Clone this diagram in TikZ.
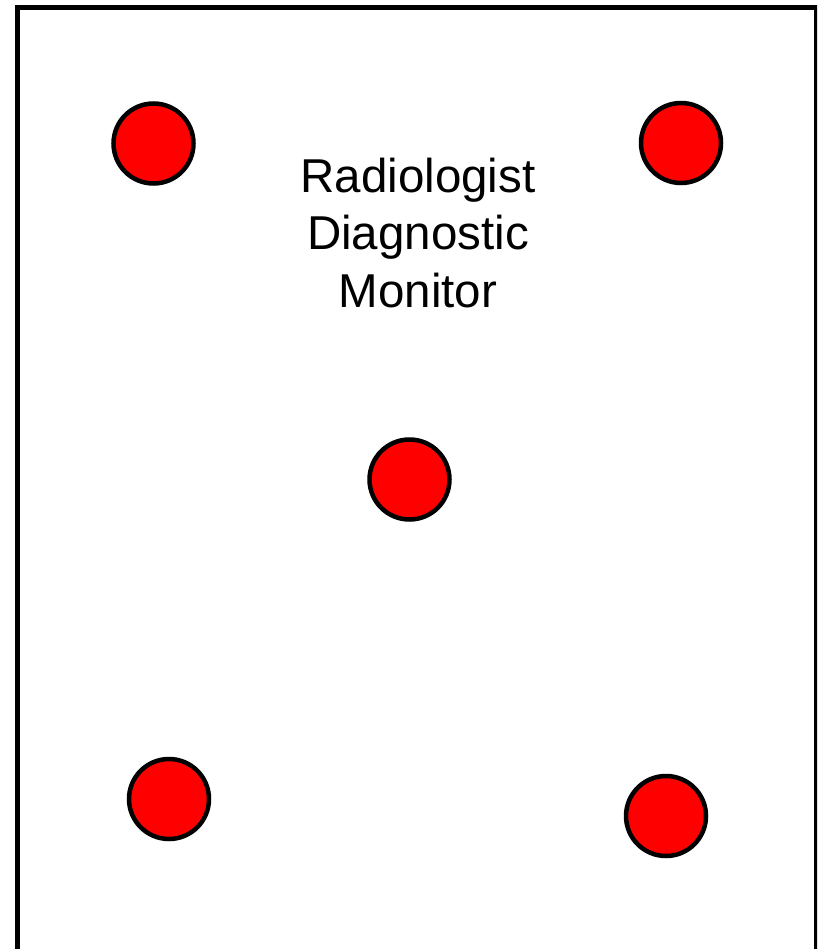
\documentclass[tikz,border=0pt]{standalone}
\usepackage{fontspec}
\setmainfont{Liberation Sans}
\usepackage{tikz}
\definecolor{mkred}{HTML}{FF0000}

\begin{document}
\begin{tikzpicture}[
  x=1pt,y=-1pt,
  every node/.style={align=center},
  frame/.style={draw=black,line width=5pt},
  marker/.style={circle,draw=black,fill=mkred,line width=4.5pt,minimum size=80pt,inner sep=0pt},
  label/.style={font=\fontsize{47.5}{57.5}\selectfont,inner sep=0pt}
]
\useasboundingbox (0,0) rectangle (817,949);
\clip (0,0) rectangle (817,949);
\draw[frame] (17.5,7.5) rectangle (816.5,980);
\node[marker] (topleft) at (153.5,143.5) {};
\node[marker] (topright) at (681,143) {};
\node[marker] (centre) at (409.5,479.5) {};
\node[marker] (bottomleft) at (169,799) {};
\node[marker] (bottomright) at (666,816) {};
\node[label] (monitor) at (418,232.6) {Radiologist\\Diagnostic\\Monitor};
\end{tikzpicture}
\end{document}
